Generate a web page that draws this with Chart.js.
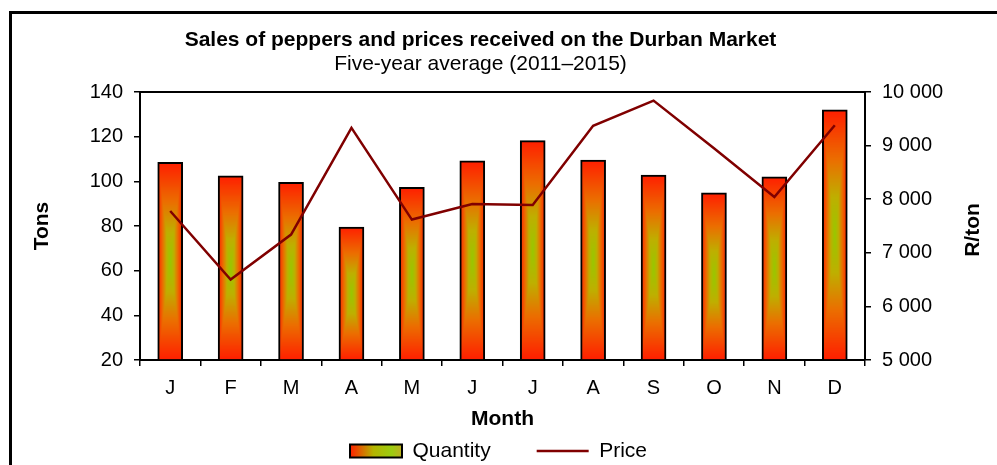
<!DOCTYPE html>
<html>
<head>
<meta charset="utf-8">
<script src="https://cdn.jsdelivr.net/npm/chart.js@4.4.1/dist/chart.umd.min.js"></script>
<style>
  html, body { margin: 0; padding: 0; background: #fff; overflow: hidden; }
  .wrap { position: relative; width: 997px; height: 465px; }
  .frame { position: absolute; left: 9px; top: 11px; width: 1200px; height: 800px; border: 3px solid #000; pointer-events: none; }
</style>
</head>
<body>
<div class="wrap">
  <canvas id="chart" width="997" height="465"></canvas>
  <div class="frame"></div>
</div>
<script>
const months = ['J', 'F', 'M', 'A', 'M', 'J', 'J', 'A', 'S', 'O', 'N', 'D'];
const quantity = [108.5, 102.5, 99.5, 79.5, 97.3, 109.2, 118.2, 109.5, 102.8, 94.8, 102, 132];
const price = [7780, 6500, 7340, 9330, 7620, 7910, 7890, 9370, 9840, 8950, 8040, 9380];
const tonsTicks = [20, 40, 60, 80, 100, 120, 140];
const randTicks = [5000, 6000, 7000, 8000, 9000, 10000];

const FONT = '"Liberation Sans", Arial, sans-serif';
const BAR_W = 25;

// colour ramp from the centre of a bar (t = 0) out to its edge (t = 1)
const ramp = [
  [0, [150, 200, 0]],
  [0.3, [190, 175, 0]],
  [0.6, [235, 110, 0]],
  [1, [255, 30, 0]]
];

function rampColor(t) {
  for (let i = 1; i < ramp.length; i++) {
    if (t <= ramp[i][0]) {
      const [t0, c0] = ramp[i - 1];
      const [t1, c1] = ramp[i];
      const k = (t - t0) / (t1 - t0);
      return c0.map((v, j) => Math.round(v + (c1[j] - v) * k));
    }
  }
  return ramp[ramp.length - 1][1];
}

// "from centre" fill like the spreadsheet bars, as a pattern pinned to the bar
function barFill(ctx, left, top, w, h) {
  w = Math.max(1, Math.round(w));
  h = Math.max(1, Math.round(h));
  const off = document.createElement('canvas');
  off.width = w;
  off.height = h;
  const octx = off.getContext('2d');
  const img = octx.createImageData(w, h);
  for (let y = 0; y < h; y++) {
    for (let x = 0; x < w; x++) {
      const t = Math.min(1, Math.max(Math.abs(x + 0.5 - w / 2) / (w / 2), Math.abs(y + 0.5 - h / 2) / (h / 2)));
      const c = rampColor(t);
      const i = (y * w + x) * 4;
      img.data[i] = c[0];
      img.data[i + 1] = c[1];
      img.data[i + 2] = c[2];
      img.data[i + 3] = 255;
    }
  }
  octx.putImageData(img, 0, 0);
  const p = ctx.createPattern(off, 'no-repeat');
  p.setTransform(new DOMMatrix().translate(left, top));
  return p;
}

const fmtSpace = v => String(v).replace(/\B(?=(\d{3})+(?!\d))/g, ' ');

const tweaks = {
  id: 'tweaks',
  afterLayout(chart) {
    // title sits a little left of centre in the original
    chart.boxes.forEach(b => {
      if (b.position === 'top' && b !== chart.legend) {
        b.left -= 18;
        b.right -= 18;
      }
    });
    const lg = chart.legend;
    lg.top -= 32.5;
    lg.bottom -= 32.5;
  },
  beforeDraw(chart) {
    const lg = chart.legend;
    const hb = lg.legendHitBoxes[0];
    if (!hb) return;
    const ctx = chart.ctx;
    const g = ctx.createLinearGradient(hb.left, 0, hb.left + 52, 0);
    g.addColorStop(0, '#ff2000');
    g.addColorStop(0.45, '#b4b400');
    g.addColorStop(0.8, '#9ccc10');
    g.addColorStop(1, '#c0b020');
    lg.legendItems[0].fillStyle = g;
  },
  afterDraw(chart) {
    const {ctx, chartArea: a} = chart;
    ctx.save();
    ctx.strokeStyle = '#000';
    ctx.lineWidth = 2;
    ctx.beginPath();
    ctx.moveTo(a.left, a.top);
    ctx.lineTo(a.right, a.top);
    ctx.stroke();
    // right axis title reads bottom-to-top
    ctx.translate(973, 230);
    ctx.rotate(-Math.PI / 2);
    ctx.font = 'bold 21px ' + FONT;
    ctx.fillStyle = '#000';
    ctx.textAlign = 'center';
    ctx.textBaseline = 'middle';
    ctx.fillText('R/ton', 0, 0);
    ctx.restore();
  }
};

Chart.defaults.font.family = FONT;
Chart.defaults.color = '#000';

new Chart(document.getElementById('chart'), {
  type: 'bar',
  data: {
    labels: months,
    datasets: [
      {
        label: 'Quantity',
        data: quantity,
        yAxisID: 'y',
        base: tonsTicks[0],
        order: 1,
        barThickness: BAR_W,
        borderColor: '#000',
        borderWidth: 2,
        borderSkipped: 'start',
        backgroundColor: c => {
          if (c.type !== 'data' || !c.chart.chartArea) return '#ff3300';
          const {x, y} = c.chart.scales;
          const cx = x.getPixelForValue(c.dataIndex);
          const top = y.getPixelForValue(c.raw);
          const base = y.getPixelForValue(tonsTicks[0]);
          return barFill(c.chart.ctx, cx - BAR_W / 2, top, BAR_W, base - top);
        }
      },
      {
        type: 'line',
        label: 'Price',
        data: price,
        yAxisID: 'y1',
        order: 0,
        borderColor: '#800000',
        backgroundColor: '#800000',
        borderWidth: 2.5,
        pointRadius: 0,
        tension: 0
      }
    ]
  },
  options: {
    responsive: false,
    animation: false,
    layout: { padding: { top: 0, left: 0, right: 0, bottom: -39 } },
    plugins: {
      title: {
        display: true,
        text: 'Sales of peppers and prices received on the Durban Market',
        font: { size: 21, weight: 'bold', lineHeight: 1 },
        color: '#000',
        padding: { top: 29.5, bottom: 0 }
      },
      subtitle: {
        display: true,
        text: 'Five-year average (2011–2015)',
        font: { size: 21, weight: 'normal', lineHeight: 1 },
        color: '#000',
        padding: { top: 3, bottom: 17.5 }
      },
      legend: {
        position: 'bottom',
        labels: {
          font: { size: 21 },
          color: '#000',
          usePointStyle: true,
          pointStyleWidth: 52,
          boxHeight: 13,
          padding: 46,
          sort: (a, b) => a.datasetIndex - b.datasetIndex,
          generateLabels: chart => {
            const items = Chart.defaults.plugins.legend.labels.generateLabels(chart);
            items.forEach(it => {
              if (it.datasetIndex === 0) {
                it.pointStyle = 'rect';
                it.strokeStyle = '#000';
                it.lineWidth = 2;
              } else {
                it.pointStyle = 'line';
                it.strokeStyle = '#800000';
                it.lineWidth = 2.5;
              }
            });
            return items;
          }
        }
      },
      tooltip: { enabled: false }
    },
    scales: {
      x: {
        afterFit: s => { s.height = 67; },
        grid: { display: true, drawOnChartArea: false, offset: true, color: '#000', lineWidth: 1.5, tickLength: 6 },
        border: { display: true, color: '#000', width: 2 },
        ticks: { font: { size: 20 }, color: '#000', padding: 10, maxRotation: 0, autoSkip: false },
        title: { display: true, text: 'Month', font: { size: 21, weight: 'bold', lineHeight: 1 }, color: '#000', padding: { top: 0, bottom: -3 } }
      },
      y: {
        position: 'left',
        min: tonsTicks[0],
        max: tonsTicks[tonsTicks.length - 1],
        afterFit: s => { s.width = 140; },
        afterBuildTicks: s => { s.ticks = tonsTicks.map(v => ({ value: v })); },
        grid: { display: true, drawOnChartArea: false, color: '#000', lineWidth: 1.5, tickLength: 6 },
        border: { display: true, color: '#000', width: 2 },
        ticks: { font: { size: 20 }, color: '#000', padding: 11 },
        title: { display: true, text: 'Tons', font: { size: 21, weight: 'bold', lineHeight: 1 }, color: '#000', padding: { top: 31.5, bottom: 0 } }
      },
      y1: {
        position: 'right',
        min: randTicks[0],
        max: randTicks[randTicks.length - 1],
        afterFit: s => { s.width = 132; },
        afterBuildTicks: s => { s.ticks = randTicks.map(v => ({ value: v })); },
        grid: { display: true, drawOnChartArea: false, color: '#000', lineWidth: 1.5, tickLength: 6 },
        border: { display: true, color: '#000', width: 2 },
        ticks: { font: { size: 20 }, color: '#000', padding: 11, callback: v => fmtSpace(v) },
        title: { display: false }
      }
    }
  },
  plugins: [tweaks]
});
</script>
</body>
</html>
